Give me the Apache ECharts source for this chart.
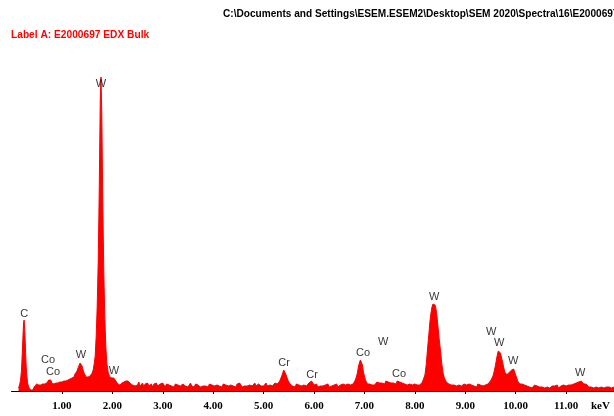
<!DOCTYPE html>
<html>
<head>
<meta charset="utf-8">
<script src="https://cdn.jsdelivr.net/npm/echarts@6/dist/echarts.min.js"></script>
<style>
html,body{margin:0;padding:0;background:#fff;}
#chart{width:614px;height:416px;}
</style>
</head>
<body>
<div id="chart"></div>
<script>
// Spectrum: [energy keV, counts]
const spectrum = [
[0.14,3],[0.16,6],[0.18,11],[0.20,22],[0.22,45],[0.23,58],[0.24,68],[0.25,71],[0.26,64],[0.27,52],[0.28,38],[0.29,26],[0.30,17],[0.32,8],[0.34,4],[0.36,2],[0.38,1],[0.40,2],[0.42,1],[0.44,3],[0.46,5],[0.48,4],[0.50,7],[0.52,9],[0.54,6],[0.56,4],[0.58,6],[0.60,5],[0.62,7],[0.64,5],[0.66,7],[0.68,6],[0.70,8],[0.72,9],[0.74,11],[0.76,13],[0.78,11],[0.80,8],[0.82,9],[0.84,7],[0.86,9],[0.88,8],[0.90,10],[0.92,8],[0.94,10],[0.96,9],[0.98,11],[1.00,9],[1.02,11],[1.04,10],[1.06,12],[1.08,10],[1.10,12],[1.12,11],[1.14,13],[1.16,12],[1.18,14],[1.20,13],[1.22,15],[1.24,14],[1.26,17],[1.28,18],[1.30,20],[1.32,23],[1.34,25],[1.36,28],[1.38,27],[1.40,25],[1.42,21],[1.44,18],[1.46,16],[1.48,14],[1.50,16],[1.52,14],[1.54,16],[1.56,15],[1.58,17],[1.60,18],[1.62,21],[1.64,27],[1.66,35],
[1.68,55],[1.70,85],[1.72,130],[1.74,200],[1.76,290],[1.775,314],[1.79,280],[1.81,190],[1.83,120],[1.85,75],[1.87,45],[1.89,28],[1.92,18],
[1.95,14],[1.97,12],[1.99,13],[2.01,12],[2.03,13],[2.05,11],[2.07,10],[2.09,8],[2.11,7],[2.13,8],[2.15,6],[2.17,7],[2.19,8],[2.21,7],[2.23,9],[2.25,8],[2.27,10],[2.29,11],[2.31,10],[2.33,9],[2.35,8],[2.37,7],
[2.400,6],[2.425,8],[2.450,5],[2.475,7],[2.500,6],[2.525,9],[2.550,5],[2.575,6],[2.600,8],[2.625,4],[2.650,7],[2.675,6],[2.700,8],[2.725,5],[2.750,6],[2.775,7],[2.800,4],[2.825,7],[2.850,6],[2.875,8],[2.900,5],[2.925,6],[2.950,7],[2.975,5],[3.000,8],[3.025,6],[3.050,4],[3.075,7],[3.100,5],[3.125,6],[3.150,8],[3.175,5],[3.200,6],[3.225,4],[3.250,7],[3.275,5],[3.300,6],[3.325,8],[3.350,5],[3.375,4],[3.400,7],[3.425,6],[3.450,5],[3.475,7],[3.500,4],[3.525,6],[3.550,8],[3.575,5],[3.600,6],[3.625,4],[3.650,7],[3.675,5],[3.700,6],[3.725,8],[3.750,4],[3.775,6],[3.800,5],[3.825,7],[3.850,5],[3.875,6],[3.900,4],[3.925,7],[3.950,5],[3.975,6],[4.000,8],[4.025,5],[4.050,4],[4.075,6],[4.100,7],[4.125,5],[4.150,6],[4.175,4],[4.200,7],[4.225,5],[4.250,6],[4.275,8],[4.300,5],[4.325,4],[4.350,6],[4.375,7],[4.400,5],[4.425,6],[4.450,4],[4.475,7],[4.500,5],[4.525,8],[4.550,6],[4.575,4],[4.600,6],[4.625,5],[4.650,7],[4.675,5],[4.700,4],[4.725,6],[4.750,7],[4.775,5],[4.800,6],[4.825,8],[4.850,5],[4.875,4],[4.900,7],[4.925,6],[4.950,5],[4.975,7],[5.000,5],[5.025,6],[5.050,8],[5.075,5],[5.100,4],[5.125,6],[5.150,7],[5.175,5],[5.200,6],[5.225,8],[5.250,6],[5.275,7],
[5.30,8],[5.32,10],[5.34,12],[5.36,15],[5.38,18],[5.40,21],[5.42,20],[5.44,17],[5.46,14],[5.48,11],[5.50,9],[5.525,7],
[5.550,7],[5.575,5],[5.600,6],[5.625,4],[5.650,7],[5.675,5],[5.700,6],[5.725,8],[5.750,5],[5.775,4],[5.800,6],[5.825,7],[5.850,5],[5.875,7],[5.900,8],[5.925,9],[5.950,10],[5.975,8],[6.000,6],[6.025,5],[6.050,7],[6.075,4],[6.100,6],[6.125,5],[6.150,7],[6.175,5],[6.200,4],[6.225,6],[6.250,5],[6.275,7],[6.300,4],[6.325,6],[6.350,5],[6.375,3],[6.400,6],[6.425,5],[6.450,7],[6.475,4],[6.500,5],[6.525,6],[6.550,4],[6.575,7],[6.600,5],[6.625,6],[6.650,4],[6.675,7],[6.700,5],[6.725,6],[6.750,8],[6.775,7],
[6.80,9],[6.82,11],[6.84,14],[6.86,18],[6.88,24],[6.90,28],[6.92,31],[6.94,29],[6.96,26],[6.98,19],[7.00,15],[7.02,11],[7.04,9],[7.06,7],
[7.075,6],[7.100,7],[7.125,5],[7.150,6],[7.175,8],[7.200,6],[7.225,7],[7.250,9],[7.275,7],[7.300,8],[7.325,10],[7.350,8],[7.375,9],[7.400,7],[7.425,10],[7.450,8],[7.475,9],[7.500,7],[7.525,8],[7.550,10],[7.575,8],[7.600,9],[7.625,7],[7.650,10],[7.675,8],[7.700,9],[7.725,7],[7.750,8],[7.775,6],[7.800,7],[7.825,5],[7.850,6],[7.875,4],[7.900,7],[7.925,5],[7.950,6],[7.975,5],[8.000,7],[8.025,5],[8.050,6],[8.075,7],[8.100,6],[8.125,8],[8.150,9],[8.175,11],
[8.20,16],[8.225,26],[8.25,41],[8.28,58],[8.30,70],[8.32,78],[8.34,84],[8.36,87],[8.38,88],[8.40,86],[8.42,82],[8.44,74],[8.46,64],[8.48,53],[8.51,40],[8.535,27],[8.56,18],[8.585,13],[8.61,11],
[8.625,9],[8.650,10],[8.675,7],[8.700,8],[8.725,6],[8.750,8],[8.775,6],[8.800,7],[8.825,5],[8.850,7],[8.875,6],[8.900,8],[8.925,5],[8.950,6],[8.975,7],[9.000,5],[9.025,6],[9.050,4],[9.075,7],[9.100,5],[9.125,6],[9.150,7],[9.175,5],[9.200,6],[9.225,4],[9.250,7],[9.275,5],[9.300,6],[9.325,7],[9.350,5],[9.375,7],[9.400,6],[9.425,8],[9.450,7],[9.475,9],
[9.50,10],[9.525,12],[9.55,15],[9.575,20],[9.60,26],[9.62,32],[9.64,37],[9.655,40],[9.67,41],[9.685,39],[9.70,38],[9.72,33],[9.74,29],[9.76,24],[9.78,20],[9.80,17],[9.82,16],[9.84,17],[9.86,18],[9.88,19],[9.90,20],[9.92,21],[9.94,22],[9.96,22],[9.98,20],[10.00,16],[10.02,13],[10.04,10],[10.06,8],[10.08,7],
[10.100,6],[10.125,7],[10.150,5],[10.175,6],[10.200,4],[10.225,5],[10.250,6],[10.275,4],[10.300,5],[10.325,3],[10.350,5],[10.375,6],[10.400,4],[10.425,5],[10.450,3],[10.475,4],[10.500,6],[10.525,4],[10.550,5],[10.575,3],[10.600,5],[10.625,4],[10.650,6],[10.675,3],[10.700,4],[10.725,5],[10.750,3],[10.775,5],[10.800,4],[10.825,6],[10.850,3],[10.875,4],[10.900,5],[10.925,4],[10.950,6],[10.975,4],[11.000,5],[11.025,4],[11.050,6],[11.075,5],[11.100,6],[11.125,5],[11.150,7],[11.175,6],[11.200,8],[11.225,7],[11.250,9],[11.275,8],[11.300,10],[11.325,8],[11.350,7],[11.375,6],[11.400,7],[11.425,5],[11.450,4],[11.475,6],[11.500,4],[11.525,5],[11.550,3],[11.575,5],[11.600,4],[11.625,6],[11.650,3],[11.675,5],[11.700,4],[11.725,5],[11.750,3],[11.775,5],[11.800,4],[11.825,6],[11.850,4],[11.875,5],[11.900,3],[11.925,5],[11.950,4]
];

// Peak identification labels: energy (keV), label height (counts), element
const peakEnergies = [0.254, 0.724, 0.823, 1.379, 1.776, 2.034, 5.407, 5.962, 6.974, 7.371, 7.688, 8.383, 9.514, 9.673, 9.950, 11.280];
const peakLabelHeights = [77, 31, 19, 36, 307, 20, 28, 16, 38, 49, 17, 94, 59, 48, 30, 18];
const peakElements = ['C', 'Co', 'Co', 'W', 'W', 'W', 'Cr', 'Cr', 'Co', 'W', 'Co', 'W', 'W', 'W', 'W', 'W'];

const tickValues = [1, 2, 3, 4, 5, 6, 7, 8, 9, 10, 11];
const axisUnit = 'keV';
const titlePath = 'C:\\Documents and Settings\\ESEM.ESEM2\\Desktop\\SEM 2020\\Spectra\\16\\E2000697';
const labelText = 'Label A: E2000697 EDX Bulk';

const labelData = peakEnergies.map((e, i) => [e, peakLabelHeights[i], peakElements[i]]);

const chart = echarts.init(document.getElementById('chart'), null, {renderer: 'canvas'});
chart.setOption({
  animation: false,
  backgroundColor: '#ffffff',
  grid: {left: 11.5, right: 0, top: 40, bottom: 21},
  xAxis: {
    type: 'value', min: 0, max: 11.95, interval: 1,
    splitLine: {show: false},
    axisLine: {show: true, lineStyle: {color: '#000', width: 1}},
    axisTick: {show: true, inside: false, length: 3, lineStyle: {color: '#000'}, customValues: tickValues},
    axisLabel: {
      show: true, margin: 6, color: '#000',
      fontFamily: 'Liberation Serif', fontWeight: 'bold', fontSize: 11,
      customValues: tickValues,
      formatter: v => v.toFixed(2)
    }
  },
  yAxis: {
    type: 'value', min: -4, max: 351, show: false,
    splitLine: {show: false}
  },
  series: [
    {
      type: 'line',
      data: spectrum,
      symbol: 'none',
      lineStyle: {color: '#ff0000', width: 1},
      areaStyle: {color: '#ff0000', opacity: 1},
      z: 2
    },
    {
      type: 'scatter',
      data: labelData,
      symbolSize: 0.1,
      itemStyle: {color: 'rgba(0,0,0,0)'},
      label: {
        show: true, position: 'inside', color: '#000',
        fontFamily: 'Liberation Sans', fontSize: 11,
        formatter: p => p.data[2]
      },
      z: 5
    }
  ],
  graphic: [
    {type: 'text', left: 223, top: 9, style: {text: titlePath, fill: '#000', font: 'bold 10.1px "Liberation Sans"'}},
    {type: 'text', left: 11, top: 30, style: {text: labelText, fill: '#ff0000', font: 'bold 10.2px "Liberation Sans"'}},
    {type: 'text', left: 591, top: 401, style: {text: axisUnit, fill: '#000', font: 'bold 11px "Liberation Serif"'}}
  ]
});
</script>
</body>
</html>
